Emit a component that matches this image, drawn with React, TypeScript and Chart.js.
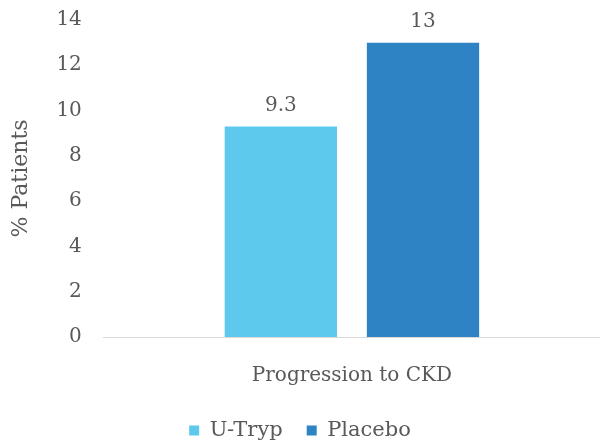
import React, { useEffect, useRef } from "react";
import { Chart, registerables } from "chart.js";

Chart.register(...registerables);

const categories = ["Progression to CKD"];
const seriesNames = ["U-Tryp", "Placebo"];
const uTrypValues = [9.3];
const placeboValues = [13];
const seriesColors = ["#5DCAED", "#2E83C4"];
const yTicks = [0, 2, 4, 6, 8, 10, 12, 14];

const FONT = "'DejaVu Serif', serif";
const TEXT = "#595959";

// Writes each bar's value centred above it
const valueLabels = {
  id: "valueLabels",
  afterDatasetsDraw(chart: any) {
    const { ctx } = chart;
    ctx.save();
    ctx.font = `20px ${FONT}`;
    ctx.fillStyle = TEXT;
    ctx.textAlign = "center";
    ctx.textBaseline = "middle";
    chart.data.datasets.forEach((ds: any, i: number) => {
      const meta = chart.getDatasetMeta(i);
      meta.data.forEach((bar: any, j: number) => {
        ctx.fillText(String(ds.data[j]), bar.x, bar.y - 21);
      });
    });
    ctx.restore();
  },
};

export default function App() {
  const ref = useRef<HTMLCanvasElement>(null);
  useEffect(() => {
    document.body.style.margin = "0";
    const chart = new Chart(ref.current!, {
      type: "bar",
      data: {
        labels: categories,
        datasets: [
          { label: seriesNames[0], data: uTrypValues, backgroundColor: seriesColors[0] },
          { label: seriesNames[1], data: placeboValues, backgroundColor: seriesColors[1] },
        ],
      },
      options: {
        animation: false,
        responsive: false,
        layout: { padding: { top: 20, right: 0, left: 0, bottom: 0 } },
        datasets: { bar: { categoryPercentage: 0.573, barPercentage: 0.79 } },
        plugins: {
          legend: {
            position: "bottom",
            maxHeight: 46,
            labels: {
              boxWidth: 10,
              boxHeight: 10,
              padding: 24,
              color: TEXT,
              font: { family: FONT, size: 21 },
            },
          },
          tooltip: { enabled: false },
        },
        scales: {
          x: {
            grid: { display: false, drawTicks: false },
            border: { display: true, color: "#D9D9D9", width: 1 },
            ticks: { color: TEXT, font: { family: FONT, size: 20 }, padding: 27 },
            afterFit: (axis: any) => {
              axis.height = 59;
            },
          },
          y: {
            min: 0,
            max: 14,
            afterBuildTicks: (axis: any) => {
              axis.ticks = yTicks.map((v) => ({ value: v }));
            },
            afterFit: (axis: any) => {
              axis.paddingTop = 12;
              axis.paddingBottom = 12;
            },
            grid: { display: false, drawTicks: false },
            border: { display: false },
            ticks: { color: TEXT, font: { family: FONT, size: 20 }, padding: 22 },
            title: {
              display: true,
              text: "% Patients",
              color: TEXT,
              font: { family: FONT, size: 22 },
              padding: { top: 8, bottom: 0 },
            },
          },
        },
      },
      plugins: [valueLabels],
    });
    return () => chart.destroy();
  }, []);
  return (
    <div style={{ width: 600, height: 442 }}>
      <canvas ref={ref} width={600} height={442} />
    </div>
  );
}
